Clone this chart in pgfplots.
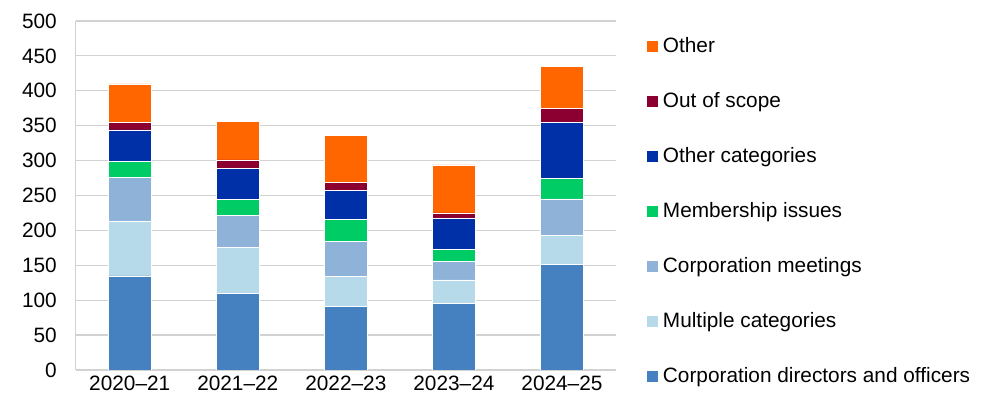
\documentclass[border=0pt]{standalone}
\usepackage{fontspec}
\setmainfont{Liberation Sans}
\usepackage{pgfplots}
\pgfplotsset{compat=1.18}
\definecolor{cdir}{RGB}{69,128,193}
\definecolor{cmul}{RGB}{183,218,235}
\definecolor{cmeet}{RGB}{143,178,216}
\definecolor{cmem}{RGB}{0,204,102}
\definecolor{ccat}{RGB}{0,48,168}
\definecolor{coos}{RGB}{139,0,48}
\definecolor{coth}{RGB}{255,102,0}
\definecolor{gridgray}{RGB}{210,210,210}
\newcommand{\ff}{\fontsize{20.8}{24}\selectfont}
\begin{document}
\begin{tikzpicture}
\useasboundingbox (0,0) rectangle (995pt,417pt);
\begin{axis}[
  at={(75.7pt,47pt)}, anchor=south west,
  width=540.3pt, height=349pt, scale only axis,
  ybar stacked, bar width=43pt,
  xmin=-0.5, xmax=4.5, ymin=0, ymax=500,
  xtick={0,1,2,3,4},
  xticklabels={2020–21,2021–22,2022–23,2023–24,2024–25},
  ytick={0,50,...,500},
  axis x line*=bottom, axis y line*=left,
  axis line style={draw=gridgray, line width=1.2pt, -},
  ymajorgrids, grid style={draw=gridgray, line width=1.2pt},
  major tick length=0pt,
  tick label style={font=\ff},
  /pgf/number format/assume math mode=true,
  yticklabel style={inner sep=0pt, xshift=-18.7pt},
  xticklabel style={inner sep=0pt, yshift=-5.7pt},
  reverse legend,
  legend cell align=left,
  legend style={at={(1.0573,0.956)}, anchor=north west, draw=none, fill=none,
    inner sep=0pt, outer sep=0pt, row sep=34pt, font=\ff,
    nodes={inner sep=1pt, text height=15pt, text depth=4pt},
    /tikz/every odd column/.append style={column sep=4pt}},
  legend image code/.code={\fill[#1,draw=none] (0pt,-5.5pt) rectangle (11pt,5.5pt);},
  every axis plot/.append style={draw=white, line width=0.5pt},
]
\addplot[fill=cdir] coordinates {(0,135) (1,110) (2,91) (3,95) (4,151)};
\addplot[fill=cmul] coordinates {(0,78) (1,66) (2,43) (3,34) (4,42)};
\addplot[fill=cmeet] coordinates {(0,63) (1,46) (2,50) (3,27) (4,52)};
\addplot[fill=cmem] coordinates {(0,23) (1,22) (2,32) (3,17) (4,29)};
\addplot[fill=ccat] coordinates {(0,45) (1,45) (2,41) (3,44) (4,81)};
\addplot[fill=coos] coordinates {(0,11) (1,12) (2,12) (3,8) (4,20)};
\addplot[fill=coth] coordinates {(0,55) (1,55) (2,67) (3,69) (4,60)};
\legend{Corporation directors and officers,Multiple categories,Corporation meetings,Membership issues,Other categories,Out of scope,Other}
\end{axis}
\end{tikzpicture}
\end{document}
